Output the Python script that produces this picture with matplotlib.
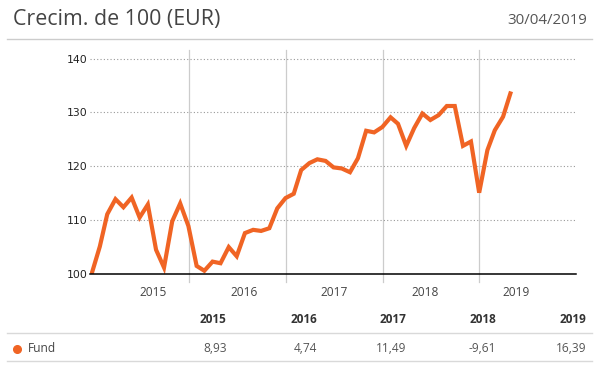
"""Crecimiento de 100 EUR - gráfico del fondo"""
import pandas as pd
import matplotlib.pyplot as plt
import matplotlib.dates as mdates
from matplotlib.lines import Line2D

# datos mensuales (fin de mes)
fechas = pd.date_range('2014-12-31', '2019-04-30', freq='ME')
valores = [100.0,
           105.1, 111.1, 113.9, 112.4, 114.2, 110.5, 112.9, 104.5, 101.2, 109.8, 113.1, 108.9,
           101.5, 100.6, 102.3, 102.0, 105.0, 103.3, 107.6, 108.2, 108.0, 108.5, 112.2, 114.1,
           114.9, 119.3, 120.6, 121.3, 121.0, 119.8, 119.6, 118.9, 121.5, 126.6, 126.3, 127.3,
           129.1, 127.9, 123.8, 127.1, 129.8, 128.6, 129.5, 131.2, 131.2, 123.8, 124.6, 115.1,
           123.0, 126.7, 129.2, 133.9]

# rentabilidad por año (tabla)
anios = ['2015', '2016', '2017', '2018', '2019']
rentab = ['8,93', '4,74', '11,49', '-9,61', '16,39']
serie = 'Fund'

titulo = 'Crecim. de 100 (EUR)'
fecha_ref = '30/04/2019'

naranja = '#F06424'
W, H = 604, 381


def fx(px):
    return px / W


def fy(py):
    return 1 - py / H


fig = plt.figure(figsize=(W / 100, H / 100), dpi=100)
ax = fig.add_axes([fx(90), fy(274), fx(576) - fx(90), fy(50) - fy(274)])

ax.plot(fechas, valores, color=naranja, linewidth=3.0,
        solid_joinstyle='miter', solid_capstyle='butt', zorder=3)

ax.set_xlim(pd.Timestamp('2014-12-25'), pd.Timestamp('2019-12-31'))
ax.set_ylim(100, 141.6)

# ejes
for s in ['left', 'top', 'right']:
    ax.spines[s].set_visible(False)
ax.spines['bottom'].set_color('black')
ax.spines['bottom'].set_linewidth(1.1)
ax.spines['bottom'].set_zorder(4)

ax.set_yticks([100, 110, 120, 130, 140])
ax.tick_params(axis='y', length=0, pad=2, labelsize=7.8, labelcolor='#222222')
ax.yaxis.grid(True, color='#999999', linewidth=0.8, linestyle=(0, (1, 2)))

# etiquetas de año bajo el eje
pos_anios = pd.to_datetime(['2015-08-19', '2016-07-27', '2017-07-03', '2018-06-10', '2019-05-18'])
ax.set_xticks(mdates.date2num(pos_anios))
ax.set_xticklabels(anios)
ax.tick_params(axis='x', length=0, pad=9)
for t in ax.get_xticklabels():
    t.set_fontfamily('Open Sans')
    t.set_fontsize(8.6)
    t.set_color('#444444')

# líneas verticales de cambio de año
for a in ['2016-01-01', '2017-01-01', '2018-01-01', '2019-01-01']:
    ax.axvline(pd.Timestamp(a), ymin=-0.035, ymax=1, color='#cccccc',
               linewidth=0.9, clip_on=False, zorder=1)

# cabecera
fig.text(fx(12.5), fy(20), titulo, fontsize=15.4, family='Open Sans',
         color='#444444', va='center', ha='left')
fig.text(fx(587), fy(20), fecha_ref, fontsize=10.8, family='Open Sans',
         color='#555555', va='center', ha='right')
fig.add_artist(Line2D([fx(7), fx(592)], [fy(39.3), fy(39.3)], color='#cccccc', linewidth=1))

# tabla de rentabilidades
col_x = [226.7, 316.9, 406.7, 496.5, 586.7]
for xc, a, r in zip(col_x, anios, rentab):
    fig.text(fx(xc), fy(319.5), a, fontsize=8.5, family='Open Sans', fontweight='bold',
             color='#333333', ha='right', va='center')
    fig.text(fx(xc), fy(348.5), r, fontsize=8.6, family='Open Sans',
             color='#555555', ha='right', va='center')

fig.add_artist(Line2D([fx(7), fx(592)], [fy(333), fy(333)], color='#d9d9d9', linewidth=1))
fig.add_artist(Line2D([fx(7), fx(592)], [fy(360.5), fy(360.5)], color='#d9d9d9', linewidth=1))
fig.add_artist(Line2D([fx(16.7)], [fy(348.5)], marker='o', markersize=5.5,
                      color=naranja, linestyle='none'))
fig.text(fx(28), fy(348.5), serie, fontsize=8.6, family='Open Sans',
         color='#444444', ha='left', va='center')

plt.savefig('out.png', dpi=100)
